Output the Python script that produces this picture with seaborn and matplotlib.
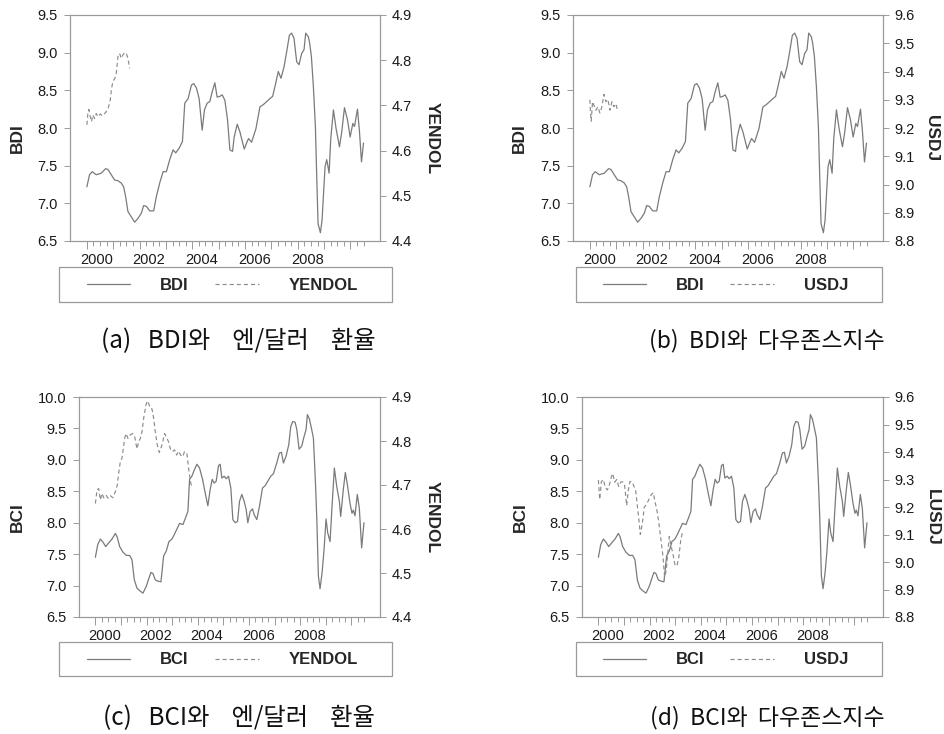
import numpy as np
import pandas as pd
import seaborn as sns
import matplotlib
matplotlib.use("Agg")
import matplotlib.pyplot as plt
from matplotlib.patches import Rectangle
from matplotlib.ticker import FixedLocator

# ---------------- data ----------------
bdi_year = [2000.000, 2000.101, 2000.203, 2000.355, 2000.545, 2000.710, 2000.798, 2000.925, 2001.052, 2001.179,
            2001.305, 2001.394, 2001.470, 2001.559, 2001.686, 2001.812, 2001.939, 2002.066, 2002.155, 2002.256,
            2002.383, 2002.535, 2002.636, 2002.763, 2002.890, 2003.016, 2003.143, 2003.270, 2003.371, 2003.498,
            2003.625, 2003.714, 2003.840, 2003.967, 2004.056, 2004.157, 2004.259, 2004.373, 2004.461, 2004.563,
            2004.664, 2004.753, 2004.854, 2004.943, 2005.044, 2005.133, 2005.234, 2005.336, 2005.425, 2005.526,
            2005.589, 2005.703, 2005.805, 2005.970, 2006.058, 2006.134, 2006.248, 2006.413, 2006.565, 2006.692,
            2006.819, 2006.945, 2007.047, 2007.148, 2007.262, 2007.364, 2007.478, 2007.579, 2007.681, 2007.769,
            2007.858, 2007.959, 2008.048, 2008.149, 2008.238, 2008.302, 2008.403, 2008.454, 2008.517, 2008.593,
            2008.669, 2008.720, 2008.770, 2008.859, 2008.923, 2008.986, 2009.037, 2009.100, 2009.189, 2009.252,
            2009.354, 2009.455, 2009.582, 2009.670, 2009.772, 2009.886, 2009.987, 2010.089, 2010.152, 2010.266,
            2010.342, 2010.418, 2010.494]
bdi_val = [7.22, 7.38, 7.42, 7.38, 7.40, 7.46, 7.45, 7.38, 7.31, 7.30,
           7.27, 7.22, 7.09, 6.89, 6.82, 6.75, 6.80, 6.87, 6.97, 6.96,
           6.90, 6.90, 7.09, 7.27, 7.42, 7.42, 7.58, 7.71, 7.67, 7.73,
           7.82, 8.33, 8.39, 8.57, 8.59, 8.53, 8.39, 7.97, 8.24, 8.33,
           8.35, 8.48, 8.60, 8.41, 8.42, 8.44, 8.37, 8.11, 7.71, 7.69,
           7.88, 8.05, 7.95, 7.72, 7.80, 7.86, 7.81, 7.99, 8.28, 8.31,
           8.35, 8.39, 8.42, 8.57, 8.75, 8.66, 8.81, 9.01, 9.23, 9.26,
           9.19, 8.88, 8.84, 8.99, 9.04, 9.26, 9.21, 9.12, 8.95, 8.55,
           8.02, 7.35, 6.73, 6.61, 6.78, 7.18, 7.49, 7.58, 7.40, 7.86,
           8.24, 7.99, 7.75, 7.95, 8.27, 8.11, 7.88, 8.06, 8.02, 8.25,
           7.95, 7.55, 7.80]

bci_year = [2000.000, 2000.091, 2000.195, 2000.299, 2000.403, 2000.520, 2000.650, 2000.780, 2000.845, 2000.949,
            2001.079, 2001.209, 2001.339, 2001.430, 2001.521, 2001.625, 2001.756, 2001.860, 2001.990, 2002.094,
            2002.172, 2002.250, 2002.341, 2002.445, 2002.562, 2002.666, 2002.770, 2002.874, 2002.991, 2003.082,
            2003.186, 2003.290, 2003.420, 2003.524, 2003.615, 2003.680, 2003.771, 2003.875, 2003.966, 2004.070,
            2004.187, 2004.291, 2004.395, 2004.486, 2004.564, 2004.642, 2004.720, 2004.811, 2004.876, 2004.941,
            2005.033, 2005.111, 2005.202, 2005.293, 2005.371, 2005.462, 2005.553, 2005.631, 2005.722, 2005.813,
            2005.891, 2005.956, 2006.047, 2006.138, 2006.203, 2006.307, 2006.411, 2006.528, 2006.632, 2006.736,
            2006.853, 2006.957, 2007.087, 2007.191, 2007.269, 2007.347, 2007.451, 2007.555, 2007.633, 2007.711,
            2007.802, 2007.867, 2007.958, 2008.062, 2008.153, 2008.231, 2008.283, 2008.362, 2008.427, 2008.518,
            2008.596, 2008.648, 2008.713, 2008.778, 2008.856, 2008.934, 2009.012, 2009.077, 2009.168, 2009.246,
            2009.337, 2009.428, 2009.532, 2009.584, 2009.688, 2009.766, 2009.844, 2009.948, 2010.026, 2010.078,
            2010.143, 2010.234, 2010.312, 2010.403, 2010.494]
bci_val = [7.45, 7.65, 7.74, 7.69, 7.62, 7.68, 7.74, 7.83, 7.78, 7.62,
           7.53, 7.48, 7.48, 7.41, 7.09, 6.96, 6.91, 6.88, 6.99, 7.12,
           7.21, 7.19, 7.09, 7.07, 7.06, 7.47, 7.55, 7.70, 7.74, 7.81,
           7.90, 7.99, 7.97, 8.08, 8.18, 8.69, 8.74, 8.85, 8.93, 8.87,
           8.69, 8.47, 8.27, 8.53, 8.69, 8.63, 8.66, 8.91, 8.93, 8.71,
           8.74, 8.70, 8.74, 8.55, 8.05, 8.00, 8.02, 8.34, 8.45, 8.34,
           8.21, 8.00, 8.18, 8.22, 8.13, 8.05, 8.26, 8.55, 8.59, 8.66,
           8.74, 8.78, 8.95, 9.11, 9.12, 8.95, 9.06, 9.24, 9.53, 9.61,
           9.60, 9.49, 9.17, 9.22, 9.37, 9.48, 9.72, 9.65, 9.53, 9.35,
           8.66, 8.10, 7.15, 6.95, 7.20, 7.57, 8.06, 7.84, 7.70, 8.26,
           8.87, 8.58, 8.34, 8.10, 8.53, 8.80, 8.61, 8.31, 8.15, 8.20,
           8.11, 8.45, 8.23, 7.60, 8.00]

yen_a_year = [2000.000, 2000.038, 2000.076, 2000.127, 2000.177, 2000.228, 2000.292, 2000.355, 2000.418, 2000.507,
              2000.583, 2000.672, 2000.735, 2000.811, 2000.887, 2000.938, 2000.989, 2001.065, 2001.115, 2001.179,
              2001.242, 2001.305, 2001.369, 2001.432, 2001.496, 2001.559, 2001.622]
yen_a_val = [4.657, 4.682, 4.691, 4.675, 4.664, 4.679, 4.671, 4.682, 4.675, 4.681,
             4.677, 4.682, 4.686, 4.694, 4.712, 4.738, 4.753, 4.760, 4.771, 4.808,
             4.815, 4.804, 4.812, 4.817, 4.815, 4.804, 4.782]

usdj_b_year = [2000.000, 2000.025, 2000.051, 2000.101, 2000.152, 2000.228, 2000.304, 2000.380, 2000.456,
               2000.532, 2000.608, 2000.684, 2000.760, 2000.837, 2000.913, 2000.989, 2001.052]
usdj_b_val = [9.300, 9.253, 9.224, 9.293, 9.281, 9.263, 9.275, 9.253, 9.275,
              9.319, 9.293, 9.301, 9.263, 9.293, 9.275, 9.286, 9.260]

yen_c_year = [2000.000, 2000.065, 2000.130, 2000.195, 2000.260, 2000.325, 2000.416, 2000.494, 2000.585, 2000.676,
              2000.780, 2000.858, 2000.910, 2000.975, 2001.040, 2001.144, 2001.196, 2001.274, 2001.365, 2001.456,
              2001.534, 2001.625, 2001.690, 2001.756, 2001.821, 2001.886, 2001.977, 2002.029, 2002.081, 2002.146,
              2002.211, 2002.276, 2002.341, 2002.419, 2002.497, 2002.601, 2002.705, 2002.796, 2002.861, 2002.939,
              2003.017, 2003.095, 2003.173, 2003.251, 2003.329, 2003.407, 2003.485, 2003.576, 2003.641, 2003.706,
              2003.771]
yen_c_val = [4.658, 4.689, 4.692, 4.666, 4.681, 4.671, 4.677, 4.670, 4.676, 4.671,
             4.685, 4.700, 4.727, 4.753, 4.761, 4.806, 4.817, 4.806, 4.814, 4.817,
             4.810, 4.782, 4.798, 4.806, 4.821, 4.852, 4.882, 4.891, 4.886, 4.874,
             4.873, 4.852, 4.821, 4.791, 4.774, 4.791, 4.817, 4.806, 4.798, 4.780,
             4.776, 4.780, 4.768, 4.777, 4.768, 4.764, 4.776, 4.772, 4.738, 4.711,
             4.692]

usdj_d_year = [2000.000, 2000.052, 2000.117, 2000.195, 2000.273, 2000.351, 2000.429, 2000.507, 2000.559, 2000.637,
               2000.715, 2000.793, 2000.871, 2000.949, 2001.027, 2001.105, 2001.170, 2001.235, 2001.313, 2001.391,
               2001.456, 2001.521, 2001.586, 2001.638, 2001.717, 2001.795, 2001.886, 2001.977, 2002.068, 2002.146,
               2002.224, 2002.302, 2002.380, 2002.458, 2002.523, 2002.588, 2002.653, 2002.718, 2002.770, 2002.835,
               2002.913, 2002.991, 2003.069, 2003.147, 2003.212, 2003.277]
usdj_d_val = [9.298, 9.227, 9.292, 9.300, 9.270, 9.262, 9.280, 9.310, 9.322, 9.290,
              9.300, 9.275, 9.290, 9.292, 9.278, 9.205, 9.262, 9.293, 9.292, 9.275,
              9.262, 9.205, 9.150, 9.100, 9.140, 9.200, 9.210, 9.228, 9.245, 9.252,
              9.215, 9.180, 9.130, 9.070, 9.020, 8.945, 8.970, 9.040, 9.093, 9.060,
              9.030, 8.990, 8.985, 9.020, 9.075, 9.105]

year_tick_labels = ["2000", "2002", "2004", "2006", "2008"]
bdi_ticks = [6.5, 7.0, 7.5, 8.0, 8.5, 9.0, 9.5]
bci_ticks = [6.5, 7.0, 7.5, 8.0, 8.5, 9.0, 9.5, 10.0]
yen_ticks = [4.4, 4.5, 4.6, 4.7, 4.8, 4.9]
usdj_ticks = [8.8, 8.9, 9.0, 9.1, 9.2, 9.3, 9.4, 9.5, 9.6]

captions = ["(a)   BDI와    엔/달러    환율", "(b)  BDI와  다우존스지수",
            "(c)   BCI와    엔/달러    환율", "(d)  BCI와  다우존스지수"]
caption_sizes = [17.5, 16.5, 17.5, 16.5]

# ---------------- styling ----------------
sns.set_theme(style="white")
plt.rcParams["font.family"] = ["Liberation Sans", "DejaVu Sans"]
LATIN = ["Liberation Sans", "DejaVu Sans"]
CJK = ["Noto Sans CJK KR", "DejaVu Sans"]
LINE = "#7a7a7a"
DASH = "#8c8c8c"
SPINE = "#9a9a9a"

W, H = 945, 734
fig = plt.figure(figsize=(W / 100, H / 100), dpi=100)

def frect(l, t, r, b):
    return [l / W, 1 - b / H, (r - l) / W, (b - t) / H]

panels = [
    dict(box=(70, 15, 380, 241), lx=bdi_year, ly=bdi_val, lname="BDI", lticks=bdi_ticks,
         rx=yen_a_year, ry=yen_a_val, rname="YENDOL", rlabel="YENDOL", rticks=yen_ticks,
         leg=(87, 358, 285), frame=(59, 267, 392, 302), cap=(238, 341), lab=(17, 432)),
    dict(box=(573, 15, 883, 241), lx=bdi_year, ly=bdi_val, lname="BDI", lticks=bdi_ticks,
         rx=usdj_b_year, ry=usdj_b_val, rname="USDJ", rlabel="USDJ", rticks=usdj_ticks,
         leg=(603, 848, 285), frame=(576, 267, 882, 302), cap=(767, 341), lab=(519, 932)),
    dict(box=(79, 397, 380, 617), lx=bci_year, ly=bci_val, lname="BCI", lticks=bci_ticks,
         rx=yen_c_year, ry=yen_c_val, rname="YENDOL", rlabel="YENDOL", rticks=yen_ticks,
         leg=(87, 358, 660), frame=(59, 642, 392, 676), cap=(239, 718), lab=(17, 432)),
    dict(box=(582, 397, 883, 617), lx=bci_year, ly=bci_val, lname="BCI", lticks=bci_ticks,
         rx=usdj_d_year, ry=usdj_d_val, rname="USDJ", rlabel="LUSDJ", rticks=usdj_ticks,
         leg=(603, 848, 660), frame=(576, 642, 882, 676), cap=(767, 718), lab=(520, 932)),
]

XMIN, XMAX = 1999.36, 2011.12
major_years = list(range(2000, 2011))
minor_q = [y + q for y in range(2000, 2011) for q in (0.25, 0.5, 0.75) if y + q <= 2010.5]

for p in panels:
    l, t, r, b = p["box"]
    ax = fig.add_axes(frect(l, t, r, b))
    ax2 = ax.twinx()

    dl = pd.DataFrame({"year": p["lx"], p["lname"]: p["ly"]})
    dr = pd.DataFrame({"year": p["rx"], p["rname"]: p["ry"]})
    sns.lineplot(data=dl, x="year", y=p["lname"], ax=ax, color=LINE, linewidth=0.9,
                 estimator=None, sort=False, legend=False)
    sns.lineplot(data=dr, x="year", y=p["rname"], ax=ax2, color=DASH, linewidth=0.85,
                 linestyle=(0, (3.5, 2.5)), estimator=None, sort=False, legend=False)

    ax.set_xlim(XMIN, XMAX)
    lt = p["lticks"]
    ax.set_ylim(lt[0], lt[-1])
    ax.set_yticks(lt)
    ax.set_yticklabels([f"{v:.1f}" for v in lt], family=LATIN)
    rt = p["rticks"]
    ax2.set_ylim(rt[0], rt[-1])
    ax2.set_yticks(rt)
    ax2.set_yticklabels([f"{v:.1f}" for v in rt], family=LATIN)

    ax.xaxis.set_major_locator(FixedLocator(major_years))
    ax.xaxis.set_minor_locator(FixedLocator(minor_q))
    ax.set_xticklabels([])
    ax.set_xlabel("")
    ax.tick_params(axis="x", which="major", bottom=True, length=5.5, width=0.7,
                   color=SPINE, direction="out")
    ax.tick_params(axis="x", which="minor", bottom=True, length=3.5, width=0.7,
                   color=SPINE, direction="out")
    ax.tick_params(axis="y", left=True, length=4.5, width=0.7, color=SPINE,
                   direction="out", labelsize=10.5, pad=4.5, labelcolor="#1a1a1a")
    ax2.tick_params(axis="y", right=True, length=4.5, width=0.7, color=SPINE,
                    direction="out", labelsize=10.5, pad=4, labelcolor="#1a1a1a")

    sec = ax.secondary_xaxis("bottom")
    sec.set_xticks([int(s) + 0.36 for s in year_tick_labels], labels=year_tick_labels,
                   family=LATIN)
    sec.tick_params(length=0, labelsize=10.5, pad=8.5, labelcolor="#1a1a1a")
    sec.spines["bottom"].set_visible(False)

    for a in (ax, ax2):
        for s in a.spines.values():
            s.set_color(SPINE)
            s.set_linewidth(0.8)
            s.set_visible(True)

    w = r - l
    ax.set_ylabel(p["lname"], fontsize=12.5, fontweight="bold", va="center", ha="center",
                  family=LATIN)
    ax2.set_ylabel(p["rlabel"], fontsize=12.5, fontweight="bold", rotation=270,
                   va="center", ha="center", family=LATIN)
    lx_c, rx_c = p["lab"]
    ax.yaxis.set_label_coords((lx_c - l) / w, 0.455)
    ax2.yaxis.set_label_coords((rx_c - l) / w, 0.455)

    # legend
    x0, x1, yc = p["leg"]
    fig.legend([ax.lines[0], ax2.lines[0]], [p["lname"], p["rname"]],
               loc="center", bbox_to_anchor=(x0 / W, 1 - yc / H, (x1 - x0) / W, 0),
               bbox_transform=fig.transFigure, mode="expand", ncol=2, frameon=False,
               borderpad=0, borderaxespad=0, handlelength=2.6, handletextpad=1.8,
               prop={"weight": "bold", "size": 12, "family": LATIN})
    fl, ft, fr, fb = p["frame"]
    fig.add_artist(Rectangle((fl / W, 1 - fb / H), (fr - fl) / W, (fb - ft) / H,
                             transform=fig.transFigure, fill=False,
                             edgecolor=SPINE, linewidth=0.9))

for p, c, fs in zip(panels, captions, caption_sizes):
    cx, cy = p["cap"]
    fig.text(cx / W, 1 - cy / H, c, ha="center", va="center", fontsize=fs,
             family=CJK, color="#111111")

fig.savefig("out.png", dpi=100)
